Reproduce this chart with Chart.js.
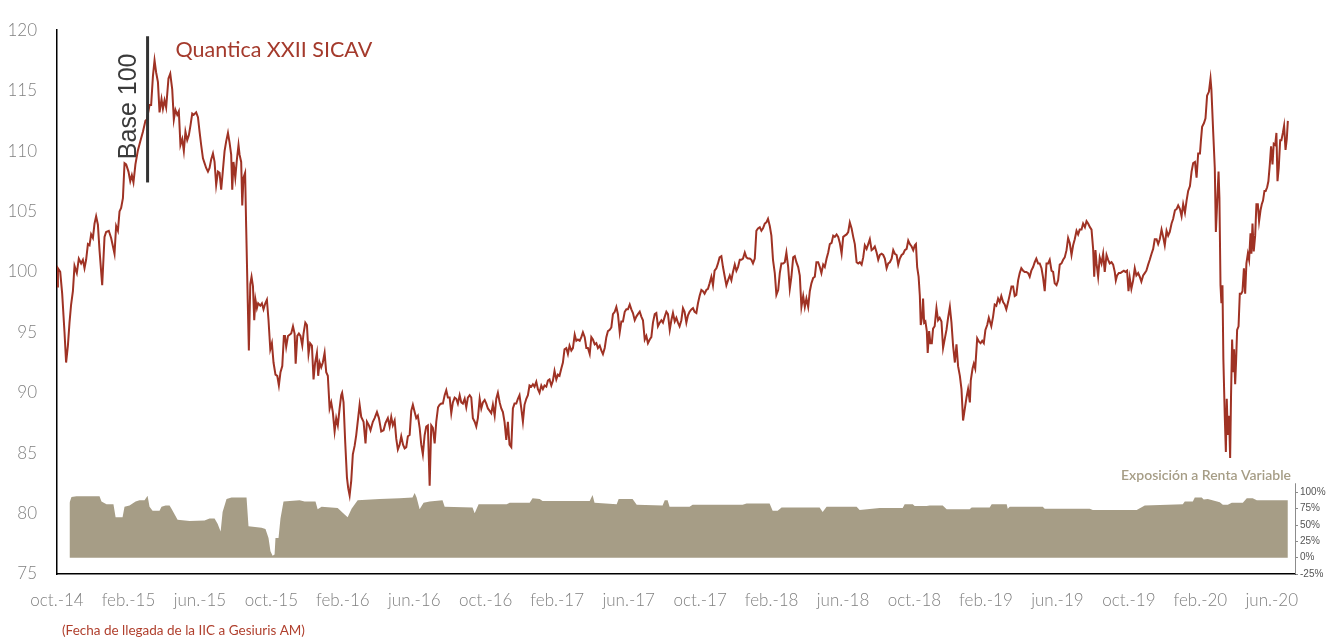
<!DOCTYPE html>
<html>
<head>
<meta charset="utf-8">
<script src="https://cdn.jsdelivr.net/npm/chart.js@4/dist/chart.umd.min.js"></script>
<style>
  body { margin: 0; background: #fff; }
  canvas { display: block; }
</style>
</head>
<body>
<canvas id="chart" width="1326" height="639"></canvas>
<script>
// x values are months since oct. 2014
const xTickLabels = ['oct.-14', 'feb.-15', 'jun.-15', 'oct.-15', 'feb.-16', 'jun.-16', 'oct.-16', 'feb.-17', 'jun.-17',
    'oct.-17', 'feb.-18', 'jun.-18', 'oct.-18', 'feb.-19', 'jun.-19', 'oct.-19', 'feb.-20', 'jun.-20'];
const exposureTicks = [-25, 0, 25, 50, 75, 100];
const baseMonth = 5.07;

// Quantica XXII SICAV, [month, value]
const navPoints = [
    [0, 98.8], [0.05, 100.3], [0.18, 100.0], [0.29, 98.2], [0.42, 95.0], [0.51, 92.5], [0.61, 93.9], [0.70, 95.8],
    [0.79, 97.3], [0.89, 98.4], [0.98, 100.5], [1.11, 99.9], [1.22, 101.1], [1.35, 100.7], [1.45, 101.0], [1.54, 100.3],
    [1.63, 101.0], [1.73, 102.3], [1.82, 102.2], [1.91, 103.1], [2.01, 102.8], [2.10, 104.0], [2.19, 104.6], [2.29, 103.9],
    [2.38, 101.8], [2.53, 98.9], [2.66, 102.9], [2.75, 103.3], [2.90, 103.4], [3.03, 102.8], [3.22, 101.5], [3.31, 103.8],
    [3.41, 103.4], [3.50, 105.0], [3.59, 105.3], [3.69, 106.1], [3.78, 109.0], [3.87, 108.9], [4.00, 108.3], [4.10, 107.5],
    [4.19, 108.0], [4.28, 107.4], [4.39, 108.9], [4.52, 110.0], [4.66, 110.8], [4.81, 111.6], [4.95, 112.5], [5.03, 112.6],
    [5.18, 113.8], [5.27, 113.8], [5.37, 116.2], [5.46, 117.5], [5.55, 116.5], [5.65, 115.7], [5.74, 113.2], [5.85, 114.3],
    [5.93, 113.5], [6.02, 114.2], [6.11, 113.6], [6.24, 116.0], [6.34, 116.4], [6.45, 115.1], [6.54, 112.6], [6.63, 113.4],
    [6.73, 113.0], [6.82, 113.3], [6.91, 110.5], [7.01, 111.0], [7.10, 110.0], [7.19, 111.6], [7.29, 110.9], [7.38, 111.3],
    [7.47, 112.1], [7.57, 113.1], [7.66, 113.0], [7.79, 113.2], [7.89, 112.8], [7.98, 111.6], [8.07, 110.5], [8.17, 109.4],
    [8.26, 109.0], [8.35, 108.6], [8.45, 108.3], [8.54, 108.6], [8.63, 109.3], [8.73, 109.8], [8.82, 109.1], [8.91, 107.2],
    [9.01, 108.3], [9.10, 108.2], [9.19, 106.8], [9.28, 108.3], [9.38, 110.0], [9.47, 110.8], [9.57, 111.5], [9.66, 110.7],
    [9.75, 109.7], [9.81, 106.8], [9.88, 109.1], [9.98, 107.8], [10.07, 109.3], [10.16, 110.5], [10.22, 109.7], [10.31, 109.1],
    [10.37, 105.5], [10.44, 107.8], [10.53, 108.2], [10.59, 103.7], [10.68, 97.4], [10.74, 93.5], [10.82, 99.0], [10.89, 99.6],
    [10.97, 98.8], [11.04, 96.0], [11.11, 97.7], [11.19, 97.0], [11.26, 97.4], [11.38, 97.2], [11.47, 97.4], [11.56, 96.9],
    [11.66, 97.4], [11.75, 97.7], [11.84, 96.0], [11.94, 93.6], [12.03, 94.1], [12.12, 92.5], [12.23, 91.5], [12.33, 91.4],
    [12.42, 90.6], [12.51, 91.7], [12.61, 92.2], [12.70, 94.7], [12.76, 94.7], [12.83, 93.8], [12.93, 94.7], [13.02, 94.8],
    [13.11, 94.9], [13.21, 95.5], [13.30, 94.9], [13.36, 92.4], [13.45, 94.7], [13.54, 94.9], [13.63, 94.7], [13.73, 93.9],
    [13.80, 94.9], [13.90, 95.8], [13.99, 95.6], [14.08, 93.2], [14.17, 94.1], [14.27, 93.9], [14.36, 91.1], [14.45, 92.5],
    [14.55, 93.3], [14.62, 91.4], [14.70, 92.5], [14.79, 92.1], [14.88, 92.5], [14.98, 93.3], [15.07, 91.7], [15.16, 91.4],
    [15.26, 88.7], [15.35, 89.2], [15.44, 88.4], [15.54, 86.8], [15.63, 87.9], [15.72, 87.3], [15.82, 88.7], [15.91, 89.8],
    [15.96, 90.0], [16.04, 89.2], [16.13, 86.0], [16.23, 83.0], [16.30, 82.1], [16.38, 81.5], [16.47, 82.7], [16.56, 84.9],
    [16.66, 85.6], [16.75, 86.5], [16.94, 89.0], [17.03, 88.0], [17.16, 87.6], [17.27, 85.8], [17.35, 87.6], [17.46, 87.3],
    [17.55, 86.9], [17.68, 87.6], [17.78, 87.9], [17.91, 88.4], [18.02, 87.9], [18.15, 86.8], [18.28, 86.9], [18.39, 87.5],
    [18.52, 87.9], [18.62, 87.2], [18.71, 88.0], [18.80, 87.3], [18.90, 87.7], [18.99, 86.2], [19.08, 85.3], [19.18, 85.7],
    [19.27, 86.4], [19.37, 85.7], [19.46, 85.4], [19.55, 85.5], [19.64, 86.4], [19.74, 86.5], [19.83, 88.5], [19.92, 89.0],
    [20.02, 88.4], [20.11, 87.9], [20.20, 88.1], [20.30, 87.1], [20.39, 85.7], [20.48, 84.9], [20.58, 86.5], [20.67, 87.2],
    [20.76, 87.3], [20.86, 82.3], [20.95, 87.3], [21.04, 87.1], [21.14, 85.8], [21.23, 87.6], [21.33, 88.8], [21.42, 89.0],
    [21.51, 89.1], [21.60, 89.1], [21.70, 89.8], [21.79, 90.2], [21.88, 89.6], [21.98, 89.6], [22.07, 88.3], [22.16, 89.2],
    [22.26, 89.6], [22.35, 89.5], [22.44, 89.1], [22.54, 89.8], [22.63, 89.2], [22.72, 89.1], [22.82, 89.5], [22.91, 88.8],
    [23.00, 89.6], [23.10, 89.8], [23.19, 89.6], [23.28, 87.9], [23.38, 87.6], [23.47, 87.2], [23.56, 87.9], [23.66, 89.5],
    [23.75, 88.7], [23.84, 89.2], [23.94, 89.4], [24.03, 89.1], [24.12, 88.7], [24.22, 88.5], [24.31, 88.3], [24.40, 89.0],
    [24.50, 88.1], [24.59, 89.5], [24.68, 90.0], [24.78, 89.2], [24.87, 88.7], [24.96, 88.4], [25.05, 87.6], [25.15, 86.1],
    [25.24, 87.6], [25.33, 85.7], [25.43, 85.5], [25.52, 88.7], [25.61, 89.1], [25.71, 89.1], [25.80, 89.5], [25.89, 89.8],
    [25.99, 88.7], [26.08, 87.6], [26.17, 89.0], [26.27, 89.5], [26.36, 89.8], [26.45, 90.6], [26.55, 90.5], [26.64, 90.7],
    [26.73, 90.5], [26.83, 90.9], [26.92, 90.3], [27.01, 90.0], [27.11, 90.6], [27.20, 90.3], [27.29, 90.6], [27.39, 90.5],
    [27.48, 91.0], [27.57, 91.1], [27.67, 90.6], [27.76, 91.0], [27.85, 91.8], [27.95, 91.1], [28.04, 91.5], [28.13, 91.4],
    [28.23, 92.0], [28.32, 92.5], [28.41, 93.6], [28.51, 93.7], [28.60, 93.2], [28.69, 93.9], [28.79, 93.5], [28.88, 93.7],
    [28.98, 94.8], [29.07, 94.3], [29.16, 94.4], [29.26, 94.3], [29.35, 94.6], [29.44, 95.0], [29.54, 94.6], [29.63, 93.7],
    [29.72, 93.7], [29.82, 93.2], [29.91, 94.6], [30.00, 94.4], [30.10, 94.0], [30.19, 94.1], [30.28, 93.7], [30.38, 93.9],
    [30.47, 93.5], [30.56, 93.2], [30.66, 93.7], [30.75, 94.6], [30.84, 95.1], [30.94, 95.2], [31.03, 95.4], [31.12, 96.5],
    [31.22, 96.7], [31.31, 97.1], [31.40, 96.5], [31.50, 95.0], [31.59, 95.9], [31.68, 95.9], [31.78, 96.7], [31.87, 96.9],
    [31.96, 96.9], [32.06, 97.3], [32.15, 96.9], [32.24, 96.6], [32.34, 96.0], [32.43, 96.3], [32.52, 96.5], [32.62, 96.7],
    [32.71, 96.3], [32.80, 96.0], [32.90, 94.4], [32.99, 94.7], [33.08, 94.1], [33.18, 94.4], [33.27, 94.6], [33.36, 95.8],
    [33.46, 96.5], [33.55, 96.6], [33.64, 95.5], [33.74, 95.8], [33.83, 96.0], [33.92, 95.8], [34.02, 96.3], [34.11, 96.7],
    [34.20, 96.5], [34.30, 95.2], [34.39, 96.0], [34.48, 96.6], [34.58, 95.9], [34.67, 96.2], [34.76, 95.8], [34.85, 95.5],
    [34.95, 96.0], [35.04, 97.0], [35.13, 96.7], [35.23, 95.8], [35.32, 96.4], [35.41, 96.7], [35.51, 96.9], [35.60, 97.0],
    [35.69, 96.7], [35.79, 96.6], [35.88, 97.4], [35.97, 98.0], [36.07, 98.5], [36.16, 98.4], [36.25, 98.2], [36.35, 98.5],
    [36.44, 98.6], [36.53, 99.05], [36.63, 99.6], [36.72, 98.9], [36.81, 100.1], [36.91, 100.3], [37.00, 100.7], [37.09, 101.2],
    [37.19, 101.3], [37.28, 100.4], [37.38, 99.6], [37.47, 98.9], [37.56, 99.3], [37.66, 99.7], [37.75, 99.3], [37.84, 100.0],
    [37.94, 100.6], [38.03, 100.1], [38.12, 100.4], [38.22, 101.0], [38.31, 101.0], [38.40, 101.1], [38.50, 101.6], [38.59, 101.2],
    [38.68, 101.1], [38.78, 101.1], [38.87, 101.0], [38.96, 100.7], [39.06, 101.1], [39.15, 103.4], [39.24, 103.6], [39.34, 103.7],
    [39.43, 103.4], [39.52, 103.6], [39.62, 104.0], [39.71, 104.1], [39.80, 104.4], [39.90, 103.8], [39.99, 103.0], [40.08, 101.0],
    [40.18, 99.9], [40.27, 98.1], [40.37, 98.5], [40.46, 99.9], [40.55, 100.7], [40.65, 100.7], [40.74, 100.8], [40.83, 101.6],
    [40.93, 100.4], [41.02, 98.6], [41.11, 99.6], [41.21, 101.2], [41.30, 101.3], [41.39, 100.8], [41.49, 100.4], [41.58, 99.7],
    [41.67, 97.1], [41.77, 98.0], [41.86, 97.1], [41.95, 97.8], [42.05, 97.1], [42.14, 98.4], [42.23, 99.05], [42.33, 99.5],
    [42.42, 99.6], [42.51, 100.8], [42.61, 100.8], [42.70, 100.4], [42.79, 99.9], [42.89, 100.6], [42.98, 100.4], [43.08, 101.1],
    [43.17, 101.6], [43.26, 102.3], [43.36, 102.4], [43.45, 103.0], [43.54, 102.9], [43.64, 103.1], [43.73, 102.9], [43.82, 102.4],
    [43.92, 101.5], [44.01, 102.9], [44.10, 103.0], [44.20, 103.1], [44.29, 103.3], [44.38, 104.1], [44.48, 103.6], [44.57, 102.9],
    [44.66, 102.3], [44.76, 100.8], [44.85, 100.7], [44.94, 100.8], [45.04, 100.6], [45.13, 101.2], [45.22, 102.2], [45.32, 101.9],
    [45.41, 102.3], [45.50, 102.7], [45.60, 101.8], [45.69, 101.9], [45.78, 102.1], [45.88, 101.6], [45.97, 101.0], [46.06, 101.4],
    [46.16, 101.5], [46.25, 101.4], [46.34, 101.1], [46.44, 100.3], [46.53, 100.7], [46.62, 100.8], [46.72, 101.1], [46.81, 101.8],
    [46.90, 101.5], [47.00, 101.4], [47.09, 100.6], [47.18, 101.1], [47.28, 101.4], [47.37, 101.5], [47.46, 101.8], [47.56, 101.9],
    [47.65, 102.6], [47.74, 102.3], [47.84, 102.1], [47.93, 101.8], [48.02, 102.2], [48.08, 102.3], [48.15, 100.4], [48.23, 99.6],
    [48.30, 98.0], [48.35, 95.6], [48.43, 96.3], [48.48, 97.8], [48.54, 95.8], [48.61, 95.9], [48.69, 95.1], [48.74, 93.3],
    [48.82, 95.1], [48.89, 94.1], [48.97, 94.1], [49.04, 95.3], [49.13, 95.5], [49.23, 97.0], [49.32, 96.0], [49.41, 96.2],
    [49.51, 95.9], [49.60, 93.7], [49.70, 94.5], [49.79, 95.2], [49.88, 96.2], [49.98, 97.1], [50.07, 95.8], [50.16, 93.9],
    [50.26, 92.5], [50.35, 94.0], [50.44, 92.2], [50.54, 91.4], [50.63, 90.3], [50.72, 87.7], [50.82, 88.7], [50.91, 89.6],
    [51.00, 90.3], [51.10, 89.2], [51.15, 91.0], [51.25, 92.0], [51.32, 92.4], [51.40, 92.0], [51.51, 94.5], [51.62, 94.2],
    [51.70, 94.1], [51.79, 94.3], [51.88, 94.1], [51.97, 95.2], [52.07, 95.6], [52.16, 96.2], [52.30, 95.5], [52.40, 96.3],
    [52.49, 97.3], [52.58, 97.2], [52.68, 97.8], [52.77, 97.5], [52.86, 98.0], [52.96, 97.5], [53.05, 97.3], [53.14, 96.9],
    [53.24, 97.5], [53.33, 98.1], [53.43, 98.8], [53.52, 98.8], [53.61, 98.0], [53.70, 98.1], [53.80, 99.3], [53.89, 99.9],
    [53.98, 100.3], [54.08, 100.1], [54.17, 100.0], [54.26, 100.0], [54.36, 99.9], [54.45, 99.6], [54.54, 100.1], [54.64, 100.4],
    [54.73, 100.8], [54.82, 101.1], [54.92, 100.7], [55.01, 100.7], [55.11, 100.3], [55.20, 99.5], [55.29, 98.4], [55.39, 100.7],
    [55.48, 100.7], [55.57, 101.0], [55.67, 100.1], [55.76, 100.0], [55.85, 99.05], [55.95, 98.9], [56.04, 99.3], [56.13, 100.6],
    [56.23, 100.7], [56.32, 101.0], [56.41, 101.2], [56.51, 101.8], [56.60, 102.8], [56.69, 102.4], [56.79, 101.4], [56.88, 102.2],
    [56.97, 102.7], [57.07, 103.4], [57.16, 103.1], [57.25, 103.5], [57.35, 103.5], [57.44, 104.0], [57.54, 103.7], [57.63, 104.2],
    [57.72, 104.0], [57.82, 103.7], [57.91, 103.5], [58.00, 101.9], [58.06, 99.6], [58.13, 101.8], [58.19, 100.7], [58.28, 99.6],
    [58.37, 101.2], [58.47, 100.7], [58.56, 101.5], [58.65, 100.0], [58.75, 101.4], [58.84, 101.0], [58.93, 100.7], [59.03, 100.8],
    [59.12, 100.6], [59.21, 100.0], [59.27, 99.3], [59.34, 99.7], [59.44, 99.9], [59.53, 99.9], [59.62, 100.0], [59.72, 100.1],
    [59.81, 100.0], [59.90, 100.1], [59.98, 98.4], [60.05, 99.5], [60.14, 98.6], [60.24, 99.3], [60.33, 100.3], [60.42, 99.7],
    [60.52, 99.9], [60.61, 99.6], [60.70, 99.2], [60.80, 99.7], [60.89, 99.9], [60.98, 100.1], [61.08, 100.6], [61.17, 101.0],
    [61.27, 101.5], [61.36, 101.9], [61.45, 102.7], [61.55, 102.7], [61.64, 102.3], [61.73, 102.7], [61.83, 103.5], [61.92, 102.9],
    [62.01, 102.2], [62.11, 103.4], [62.20, 103.0], [62.29, 103.3], [62.39, 104.0], [62.48, 104.4], [62.58, 105.1], [62.67, 105.2],
    [62.76, 105.5], [62.86, 105.2], [62.95, 104.6], [63.04, 105.6], [63.14, 104.9], [63.23, 105.9], [63.32, 106.7], [63.42, 107.1],
    [63.51, 108.3], [63.60, 109.0], [63.70, 109.1], [63.79, 107.8], [63.88, 109.8], [63.98, 109.8], [64.03, 110.8], [64.10, 112.0],
    [64.20, 112.3], [64.29, 112.7], [64.38, 114.6], [64.48, 114.9], [64.57, 116.0], [64.62, 115.1], [64.72, 111.6], [64.81, 108.6],
    [64.87, 103.3], [64.94, 105.6], [65.02, 108.3], [65.07, 106.1], [65.13, 98.9], [65.18, 97.4], [65.24, 98.9], [65.29, 92.8],
    [65.37, 88.0], [65.43, 85.1], [65.48, 89.5], [65.54, 86.5], [65.61, 88.1], [65.67, 84.6], [65.72, 89.8], [65.78, 94.4],
    [65.84, 91.7], [65.89, 93.6], [65.95, 90.7], [66.00, 92.5], [66.06, 95.2], [66.14, 95.5], [66.21, 98.2], [66.29, 98.2],
    [66.36, 98.4], [66.44, 100.3], [66.51, 98.2], [66.58, 100.7], [66.66, 101.5], [66.73, 101.0], [66.81, 103.2], [66.86, 101.5],
    [66.92, 104.0], [66.99, 101.7], [67.07, 103.0], [67.14, 105.6], [67.22, 105.6], [67.29, 104.2], [67.37, 105.1], [67.44, 105.6],
    [67.51, 105.9], [67.59, 106.7], [67.66, 106.7], [67.74, 107.0], [67.81, 107.5], [67.89, 108.9], [67.96, 110.4], [68.04, 108.9],
    [68.11, 110.6], [68.19, 110.5], [68.26, 111.5], [68.32, 107.5], [68.39, 108.6], [68.47, 110.9], [68.54, 110.9], [68.62, 111.5],
    [68.69, 112.1], [68.77, 110.1], [68.84, 111.0], [68.90, 112.5]
];

// Exposición a Renta Variable (%), [month, percent]
const exposurePoints = [
    [0.70, 0], [0.70, 84], [0.81, 93], [1.09, 94], [2.38, 94], [2.49, 86], [2.77, 82], [3.16, 82], [3.28, 62], [3.67, 62],
    [3.78, 78], [4.06, 80], [4.40, 86], [4.62, 88], [4.90, 88], [5.07, 95], [5.18, 78], [5.35, 72], [5.74, 72], [5.85, 78],
    [6.08, 80], [6.30, 80], [6.41, 75], [6.75, 58], [7.42, 56], [8.26, 57], [8.54, 60], [8.82, 60], [8.99, 52], [9.16, 40],
    [9.27, 70], [9.49, 90], [9.77, 92], [10.61, 92], [10.72, 48], [11.45, 46], [11.67, 44], [11.84, 30], [11.95, 10], [12.07, 3],
    [12.18, 5], [12.23, 30], [12.40, 30], [12.51, 60], [12.68, 86], [13.58, 88], [13.86, 86], [14.47, 86], [14.59, 74], [14.81, 78],
    [15.71, 76], [16.10, 66], [16.27, 62], [16.49, 75], [16.83, 88], [18.06, 90], [19.18, 91], [19.90, 92], [20.02, 99], [20.13, 92],
    [20.30, 74], [20.52, 84], [20.86, 86], [21.58, 88], [21.70, 78], [23.26, 77], [23.38, 68], [23.60, 82], [25.17, 82], [25.34, 84],
    [26.46, 84], [26.62, 91], [27.02, 90], [27.18, 87], [29.82, 87], [29.98, 96], [30.09, 84], [31.33, 82], [31.44, 90], [32.22, 90],
    [32.45, 81], [33.90, 80], [34.02, 88], [34.18, 88], [34.29, 78], [35.41, 78], [35.58, 81], [38.38, 81], [38.60, 83], [39.89, 83],
    [40.06, 72], [40.34, 72], [40.56, 77], [42.69, 77], [42.86, 70], [43.08, 78], [44.76, 78], [44.93, 73], [46.05, 76], [47.34, 76],
    [47.45, 82], [47.90, 82], [48.01, 79], [48.68, 79], [48.85, 80], [49.58, 80], [49.80, 74], [51.09, 74], [51.20, 77], [52.21, 77],
    [52.32, 82], [53.16, 82], [53.22, 75], [53.33, 78], [55.18, 78], [55.29, 75], [57.81, 75], [57.98, 73], [60.44, 73], [60.89, 80],
    [63.02, 82], [63.13, 86], [63.58, 86], [63.69, 92], [64.08, 92], [64.19, 89], [64.42, 90], [65.09, 85], [65.26, 81], [65.54, 81],
    [65.76, 84], [66.38, 84], [66.60, 91], [66.93, 91], [67.16, 88], [68.90, 88], [68.90, 0]
];

const RED = '#9f3224';
const TAN = '#a69d86';
const tickFont = { family: 'Lato', size: 17, weight: '300' };

const decor = {
    id: 'decor',
    afterDatasetsDraw(chart) {
        const { ctx, chartArea, scales: { x, y, y2 } } = chart;
        ctx.save();

        // short right axis for the exposure scale
        ctx.strokeStyle = '#8c8c8c';
        ctx.lineWidth = 1;
        ctx.beginPath();
        ctx.moveTo(chartArea.right + 0.5, y2.getPixelForValue(114));
        ctx.lineTo(chartArea.right + 0.5, y2.getPixelForValue(-25));
        ctx.stroke();

        // Base 100 marker
        const bx = x.getPixelForValue(baseMonth);
        ctx.strokeStyle = '#333';
        ctx.lineWidth = 3;
        ctx.beginPath();
        ctx.moveTo(bx, y.getPixelForValue(119.5));
        ctx.lineTo(bx, y.getPixelForValue(107.4));
        ctx.stroke();

        ctx.save();
        ctx.translate(bx - 18, y.getPixelForValue(113.7));
        ctx.rotate(-Math.PI / 2);
        ctx.fillStyle = '#3a3a3a';
        ctx.font = '25px "Liberation Sans", Arial, sans-serif';
        ctx.textAlign = 'center';
        ctx.textBaseline = 'middle';
        ctx.fillText('Base 100', 0, 0);
        ctx.restore();

        ctx.fillStyle = '#a43a2c';
        ctx.font = '21.5px Lato, sans-serif';
        ctx.textAlign = 'left';
        ctx.textBaseline = 'alphabetic';
        ctx.fillText('Quantica XXII SICAV', bx + 28, 57);

        ctx.fillStyle = TAN;
        ctx.font = '600 14px Lato, sans-serif';
        ctx.textAlign = 'right';
        ctx.fillText('Exposición a Renta Variable', 1291, 480);

        ctx.fillStyle = '#b0402e';
        ctx.font = '13.5px Lato, sans-serif';
        ctx.textAlign = 'left';
        ctx.fillText('(Fecha de llegada de la IIC a Gesiuris AM)', 62, 635);

        ctx.restore();
    }
};

new Chart(document.getElementById('chart'), {
    type: 'line',
    data: {
        datasets: [
            {
                label: 'Quantica XXII SICAV',
                data: navPoints.map(p => ({ x: p[0], y: p[1] })),
                borderColor: RED,
                borderWidth: 2,
                pointRadius: 0,
                tension: 0,
                yAxisID: 'y',
                order: 1
            },
            {
                label: 'Exposición a Renta Variable',
                data: exposurePoints.map(p => ({ x: p[0], y: p[1] })),
                borderWidth: 0,
                backgroundColor: TAN,
                fill: 'origin',
                pointRadius: 0,
                tension: 0,
                yAxisID: 'y2',
                order: 2
            }
        ]
    },
    options: {
        responsive: false,
        animation: false,
        devicePixelRatio: 1,
        layout: { padding: { top: 24, left: 0, right: 0, bottom: 0 } },
        plugins: {
            legend: { display: false },
            tooltip: { enabled: false }
        },
        scales: {
            x: {
                type: 'linear',
                min: 0,
                max: 69.3,
                grid: { display: false, drawTicks: false },
                border: { display: true, color: '#000', width: 1.5 },
                afterBuildTicks: s => { s.ticks = xTickLabels.map((_, i) => ({ value: i * 4 })); },
                ticks: {
                    autoSkip: false,
                    maxRotation: 0,
                    padding: 16,
                    color: '#808080',
                    font: tickFont,
                    callback: v => xTickLabels[Math.round(v / 4)]
                },
                afterFit: s => { s.height = 65; }
            },
            y: {
                position: 'left',
                min: 75,
                max: 120,
                grid: { display: false, drawTicks: false },
                border: { display: true, color: '#000', width: 1.5 },
                ticks: { stepSize: 5, padding: 20, color: '#808080', font: tickFont },
                afterFit: s => { s.width = 57; }
            },
            y2: {
                position: 'right',
                min: -25,
                max: 808,
                grid: { display: true, drawOnChartArea: false, drawTicks: true, tickLength: 3, color: '#8c8c8c' },
                border: { display: false },
                afterBuildTicks: s => { s.ticks = exposureTicks.map(v => ({ value: v })); },
                ticks: {
                    padding: 2,
                    color: '#555',
                    font: { family: '"Liberation Sans Narrow", "Liberation Sans", Arial', size: 10 },
                    callback: v => v + '%'
                },
                afterFit: s => { s.width = 31; }
            }
        }
    },
    plugins: [decor]
});
</script>
</body>
</html>
